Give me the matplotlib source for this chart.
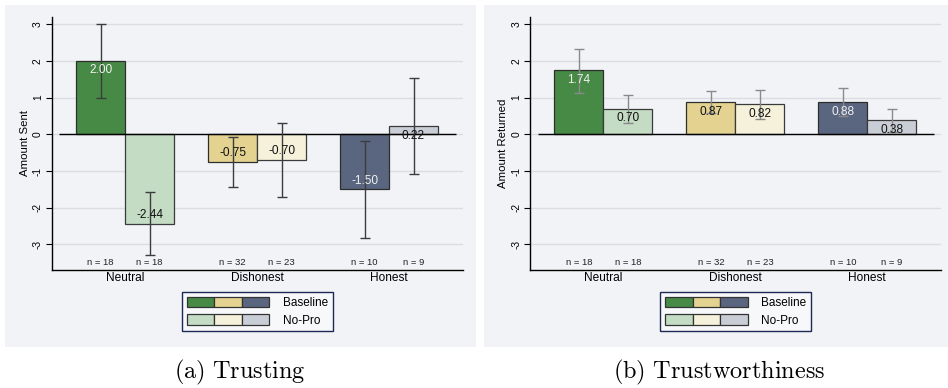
import matplotlib
matplotlib.use("Agg")
import matplotlib.pyplot as plt
import numpy as np
from matplotlib.patches import Rectangle, Patch
from matplotlib.legend_handler import HandlerTuple
import matplotlib.transforms as mtransforms

plt.rcParams['font.family'] = ['Liberation Sans', 'DejaVu Sans']
plt.rcParams['mathtext.fontset'] = 'cm'

categories = ["Neutral", "Dishonest", "Honest"]
series_labels = ["Baseline", "No-Pro"]
yticks = [-3, -2, -1, 0, 1, 2, 3]

n_baseline = [18, 32, 10]
n_nopro = [18, 23, 9]

# Panel (a) Trusting - Amount Sent
sent_baseline = [2.00, -0.75, -1.50]
sent_baseline_lo = [1.00, -1.44, -2.83]
sent_baseline_hi = [3.00, -0.06, -0.17]
sent_nopro = [-2.44, -0.70, 0.22]
sent_nopro_lo = [-3.30, -1.70, -1.09]
sent_nopro_hi = [-1.58, 0.30, 1.54]

# Panel (b) Trustworthiness - Amount Returned
ret_baseline = [1.74, 0.87, 0.88]
ret_baseline_lo = [1.14, 0.57, 0.51]
ret_baseline_hi = [2.33, 1.17, 1.25]
ret_nopro = [0.70, 0.82, 0.38]
ret_nopro_lo = [0.32, 0.43, 0.07]
ret_nopro_hi = [1.07, 1.21, 0.69]

baseline_colors = ['#468a46', '#e3d290', '#5a6580']
nopro_colors = ['#c4dcc4', '#f5f1da', '#c9cdd6']
baseline_text = ['#f0f0f0', '#111111', '#f0f0f0']
nopro_text = ['#111111', '#111111', '#111111']

BG = '#f2f3f6'
W, H = 948, 388
fig = plt.figure(figsize=(W / 100, H / 100), dpi=100)
fig.patch.set_facecolor('white')

# panel backgrounds
fig.add_artist(Rectangle((5 / W, 1 - 346.7 / H), 471 / W, 341.7 / H,
                         transform=fig.transFigure, facecolor=BG, edgecolor='none', zorder=0))
fig.add_artist(Rectangle((484 / W, 1 - 346.7 / H), 464 / W, 341.7 / H,
                         transform=fig.transFigure, facecolor=BG, edgecolor='none', zorder=0))

ax_w = 411 / W
ax_b = 1 - 269.7 / H
ax_h = (269.7 - 17.3) / H
axL = fig.add_axes([52 / W, ax_b, ax_w, ax_h])
axR = fig.add_axes([530.3 / W, ax_b, ax_w, ax_h])


def draw(ax, base, blo, bhi, nop, nlo, nhi, ylabel, ecol, caption, cx):
    ax.set_facecolor('none')
    x = np.arange(len(categories))
    w = 0.371
    xb = x - w / 2
    xn = x + w / 2
    for i in range(len(categories)):
        ax.bar(xb[i], base[i], width=w, color=baseline_colors[i], edgecolor='#2e2e2e',
               linewidth=0.9, zorder=3)
        ax.bar(xn[i], nop[i], width=w, color=nopro_colors[i], edgecolor='#3a3a3a',
               linewidth=0.9, zorder=3)
    # error bars
    base = np.array(base); nop = np.array(nop)
    ax.errorbar(xb, base, yerr=[base - np.array(blo), np.array(bhi) - base], fmt='none',
                ecolor=ecol, elinewidth=1.0, capsize=3.3, capthick=1.0, zorder=4)
    ax.errorbar(xn, nop, yerr=[nop - np.array(nlo), np.array(nhi) - nop], fmt='none',
                ecolor=ecol, elinewidth=1.0, capsize=3.3, capthick=1.0, zorder=4)
    # value labels
    for i in range(len(categories)):
        for xx, v, c in ((xb[i], base[i], baseline_text[i]), (xn[i], nop[i], nopro_text[i])):
            off = -0.26 if v >= 0 else 0.24
            ax.text(xx, v + off, f"{v:.2f}", ha='center', va='center', fontsize=8.6,
                    color=c, zorder=5)
    # n labels
    trans = mtransforms.blended_transform_factory(ax.transData, ax.transAxes)
    for i in range(len(categories)):
        ax.text(xb[i], 0.028, f"n = {n_baseline[i]}", transform=trans, ha='center',
                va='center', fontsize=6.8, color='#222222')
        ax.text(xn[i], 0.028, f"n = {n_nopro[i]}", transform=trans, ha='center',
                va='center', fontsize=6.8, color='#222222')
    # zero line
    ax.hlines(0, -0.498, 2.508, color='black', linewidth=1.0, zorder=3.5)

    ax.set_xlim(-0.553, 2.56)
    ax.set_ylim(-3.69, 3.19)
    ax.set_yticks(yticks)
    ax.set_yticklabels([str(t) for t in yticks], rotation=90, va='center', fontsize=7.4)
    ax.grid(axis='y', color='#dcdde2', linewidth=1.0, zorder=0)
    ax.set_axisbelow(True)
    ax.set_xticks(x)
    ax.set_xticklabels(categories, fontsize=8.6)
    ax.tick_params(axis='x', length=0, pad=2)
    ax.tick_params(axis='y', length=4, width=0.8, pad=2.5)
    for s in ('top', 'right'):
        ax.spines[s].set_visible(False)
    for s in ('left', 'bottom'):
        ax.spines[s].set_linewidth(1.0)
        ax.spines[s].set_color('black')
    ax.set_ylabel(ylabel, fontsize=8.2, labelpad=2)

    hb = tuple(Patch(facecolor=c, edgecolor='#333333', linewidth=0.9) for c in baseline_colors)
    hn = tuple(Patch(facecolor=c, edgecolor='#333333', linewidth=0.9) for c in nopro_colors)
    leg = ax.legend([hb, hn], series_labels, handler_map={tuple: HandlerTuple(ndivide=None, pad=0)},
                    loc='upper center', bbox_to_anchor=(0.5, -0.0895), fontsize=8.5,
                    handlelength=7.0, handleheight=0.95, handletextpad=1.15,
                    borderpad=0.42, labelspacing=0.42, borderaxespad=0,
                    fancybox=False, frameon=True)
    fr = leg.get_frame()
    fr.set_edgecolor('#1c2957')
    fr.set_linewidth(1.0)
    fr.set_facecolor('#f7f8fa')
    fr.set_alpha(1)

    fig.text(cx / W, 1 - 372.5 / H, caption, ha='center', va='center', fontsize=17.5)


draw(axL, sent_baseline, sent_baseline_lo, sent_baseline_hi,
     sent_nopro, sent_nopro_lo, sent_nopro_hi, "Amount Sent", '#3c3c3c',
     r'$\mathrm{(a)\ Trusting}$', 240)
draw(axR, ret_baseline, ret_baseline_lo, ret_baseline_hi,
     ret_nopro, ret_nopro_lo, ret_nopro_hi, "Amount Returned", '#8a8a8a',
     r'$\mathrm{(b)\ Trustworthiness}$', 719.5)

fig.savefig("out.png", dpi=100)
